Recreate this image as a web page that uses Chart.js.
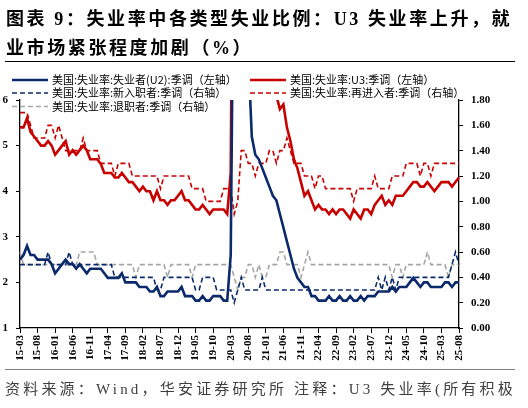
<!DOCTYPE html>
<html>
<head>
<meta charset="utf-8">
<script src="https://cdn.jsdelivr.net/npm/chart.js@4.4.1/dist/chart.umd.min.js"></script>
<style>
  html, body { margin: 0; padding: 0; background: #fff; }
  #wrap { position: relative; width: 528px; height: 408px; overflow: hidden; }
  #c { position: absolute; left: 0; top: 0; }
  .title {
    position: absolute; left: 6px; top: 5px; width: 522px;
    font-family: "Liberation Serif", "Noto Sans CJK SC", serif;
    font-weight: bold; font-size: 18px; line-height: 29px;
    letter-spacing: 2.6px; color: #000; white-space: nowrap;
  }
  .rule { position: absolute; left: 5px; width: 510px; }
  .src {
    position: absolute; left: 5px; top: 377px; white-space: nowrap;
    font-family: "Liberation Serif", "Noto Sans CJK SC", serif;
    font-size: 15px; letter-spacing: 3.2px; color: #404040;
  }
</style>
</head>
<body>
<div id="wrap">
  <canvas id="c" width="528" height="408"></canvas>
  <div class="title">图表 9：失业率中各类型失业比例：U3 失业率上升，就<br>业市场紧张程度加剧（%）</div>
  <div class="rule" style="top:61px;border-top:1.5px solid #000;"></div>
  <div class="rule" style="top:369px;border-top:1.5px solid #7f7f7f;"></div>
  <div class="src">资料来源：Wind，华安证券研究所 注释：U3 失业率(所有积极</div>
</div>
<script>
// 月份：2015-03 ~ 2025-08
const startYear = 2015, startMonth = 3, monthCount = 126;
const months = [];
for (let i = 0; i < monthCount; i++) {
  const m = startMonth - 1 + i;
  const y = startYear + Math.floor(m / 12);
  months.push(String(y).slice(2) + '-' + String(m % 12 + 1).padStart(2, '0'));
}

// U3失业率（左轴）
const u3 = [
  5.4,5.4,5.6,5.3,5.2,5.1,5.0,5.0,5.1,5.0,
  4.8,4.9,5.0,5.1,4.8,4.9,4.8,4.9,5.0,4.9,4.7,4.7,
  4.7,4.6,4.4,4.4,4.4,4.3,4.3,4.4,4.3,4.2,4.2,4.1,
  4.0,4.1,4.0,4.0,3.8,4.0,3.8,3.8,3.7,3.8,3.8,3.9,
  4.0,3.8,3.8,3.7,3.6,3.6,3.7,3.6,3.5,3.6,3.6,3.6,
  3.6,3.5,4.4,14.8,13.2,11.0,10.2,8.4,7.8,6.8,6.7,6.7,
  6.4,6.2,6.1,6.1,5.8,5.9,5.4,5.1,4.7,4.5,4.2,3.9,
  4.0,3.8,3.6,3.7,3.6,3.6,3.5,3.6,3.5,3.6,3.6,3.5,
  3.4,3.6,3.5,3.4,3.6,3.6,3.5,3.7,3.8,3.9,3.7,3.8,
  3.7,3.9,3.9,3.9,4.0,4.1,4.2,4.2,4.1,4.1,4.2,4.1,
  4.0,4.1,4.2,4.2,4.2,4.1,4.2,4.3
];

// 失业者U2（左轴）
const u2 = [
  2.5,2.6,2.8,2.6,2.6,2.5,2.5,2.5,2.5,2.4,
  2.2,2.3,2.4,2.5,2.4,2.4,2.3,2.4,2.3,2.2,2.3,2.3,
  2.3,2.3,2.2,2.1,2.1,2.1,2.1,2.2,2.0,2.0,2.0,2.0,
  1.9,1.9,1.9,1.8,1.8,1.9,1.7,1.7,1.8,1.8,1.8,1.8,
  1.9,1.7,1.7,1.7,1.6,1.6,1.7,1.6,1.6,1.7,1.7,1.7,
  1.6,1.6,2.6,11.0,9.7,8.5,7.8,7.0,5.2,4.8,4.7,4.5,
  4.3,4.1,3.9,3.8,3.5,3.2,2.9,2.6,2.3,2.1,2.0,1.9,
  1.9,1.7,1.7,1.6,1.6,1.6,1.7,1.6,1.6,1.7,1.6,1.6,
  1.7,1.6,1.6,1.7,1.6,1.7,1.7,1.7,1.8,1.8,1.8,1.8,
  1.9,1.8,1.9,1.9,1.9,2.0,2.1,2.0,1.9,2.0,2.0,1.9,
  1.9,1.9,1.9,2.0,2.0,1.9,2.0,2.0
];

// 新入职者（右轴）
const newEntrants = [
  0.5,0.5,0.5,0.5,0.5,0.5,0.5,0.5,0.6,0.5,
  0.5,0.5,0.5,0.5,0.6,0.5,0.5,0.5,0.5,0.5,0.5,0.5,
  0.5,0.5,0.5,0.5,0.5,0.4,0.4,0.4,0.4,0.4,0.4,0.4,
  0.4,0.4,0.4,0.4,0.4,0.3,0.3,0.4,0.4,0.4,0.4,0.4,
  0.4,0.4,0.4,0.4,0.3,0.3,0.4,0.4,0.4,0.4,0.3,0.3,
  0.3,0.3,0.3,0.2,0.3,0.4,0.3,0.3,0.3,0.3,0.3,0.4,
  0.3,0.3,0.3,0.3,0.3,0.3,0.3,0.3,0.3,0.3,0.3,0.3,
  0.3,0.3,0.3,0.3,0.3,0.3,0.3,0.3,0.3,0.3,0.3,0.3,
  0.3,0.3,0.3,0.3,0.3,0.3,0.3,0.3,0.4,0.3,0.4,0.3,
  0.4,0.3,0.4,0.4,0.4,0.4,0.4,0.4,0.4,0.4,0.4,0.4,
  0.4,0.4,0.4,0.4,0.4,0.5,0.6,0.5
];

// 再进入者（右轴）
const reEntrants = [
  1.7,1.7,1.7,1.6,1.5,1.5,1.5,1.5,1.6,1.6,
  1.5,1.6,1.5,1.4,1.4,1.4,1.4,1.4,1.5,1.4,1.4,1.4,
  1.4,1.3,1.3,1.3,1.3,1.2,1.3,1.3,1.3,1.3,1.2,1.2,
  1.2,1.2,1.2,1.2,1.2,1.2,1.1,1.2,1.2,1.2,1.2,1.2,
  1.2,1.2,1.2,1.1,1.1,1.1,1.1,1.0,1.0,1.0,1.0,1.0,
  1.1,1.1,1.1,0.9,1.0,1.4,1.4,1.3,1.3,1.2,1.3,1.3,
  1.3,1.4,1.4,1.3,1.4,1.4,1.5,1.4,1.3,1.3,1.3,1.2,
  1.2,1.2,1.1,1.2,1.2,1.1,1.1,1.1,1.1,1.1,1.1,1.1,
  1.1,1.0,1.1,1.1,1.1,1.1,1.1,1.2,1.1,1.1,1.1,1.1,
  1.2,1.2,1.2,1.2,1.3,1.3,1.3,1.3,1.2,1.3,1.3,1.2,
  1.3,1.3,1.3,1.3,1.3,1.3,1.3,1.3
];

// 退职者（右轴）
const jobLeavers = [
  0.6,0.5,0.5,0.5,0.5,0.5,0.5,0.5,0.5,0.5,
  0.5,0.5,0.5,0.5,0.5,0.5,0.5,0.6,0.6,0.6,0.6,0.6,
  0.5,0.5,0.5,0.5,0.5,0.5,0.5,0.5,0.5,0.5,0.5,0.4,
  0.5,0.5,0.5,0.5,0.5,0.5,0.5,0.5,0.4,0.5,0.5,0.5,
  0.5,0.5,0.5,0.4,0.5,0.5,0.5,0.5,0.5,0.5,0.5,0.5,
  0.5,0.5,0.5,0.4,0.3,0.4,0.4,0.5,0.5,0.4,0.5,0.4,
  0.4,0.5,0.5,0.5,0.6,0.6,0.5,0.5,0.5,0.5,0.4,0.5,
  0.6,0.5,0.5,0.5,0.5,0.5,0.5,0.5,0.5,0.5,0.5,0.5,
  0.5,0.5,0.5,0.5,0.5,0.5,0.5,0.5,0.5,0.5,0.5,0.5,
  0.4,0.5,0.5,0.4,0.5,0.5,0.5,0.5,0.5,0.5,0.6,0.5,
  0.5,0.5,0.5,0.5,0.4,0.5,0.5,0.5
];

const NAVY = '#0b2a6b', RED = '#c80000', GRAY = '#a6a6a6';
const tickFont = { family: 'Liberation Serif', weight: 'bold', size: 11 };

// 图例位置（左上角，部分压在绘图区上）
const legendSlots = [
  { x: 12, y: 80 }, { x: 250, y: 80 },
  { x: 12, y: 93 }, { x: 250, y: 93 },
  { x: 12, y: 106.5 }
];

const cornerLegend = {
  id: 'cornerLegend',
  afterDraw(chart) {
    const ctx = chart.ctx;
    ctx.save();
    ctx.font = '11px "Noto Sans CJK SC"';
    ctx.textBaseline = 'middle';
    ctx.fillStyle = '#000';
    chart.data.datasets.forEach((ds, i) => {
      const s = legendSlots[i];
      ctx.beginPath();
      ctx.strokeStyle = ds.borderColor;
      ctx.lineWidth = ds.borderDash ? 1.6 : 2.5;
      ctx.setLineDash(ds.borderDash || []);
      ctx.moveTo(s.x, s.y);
      ctx.lineTo(s.x + 36, s.y);
      ctx.stroke();
      ctx.setLineDash([]);
      ctx.fillText(ds.label, s.x + 40, s.y);
    });
    ctx.restore();
  }
};

new Chart(document.getElementById('c'), {
  type: 'line',
  data: {
    labels: months,
    datasets: [
      { label: '美国:失业率:失业者(U2):季调（左轴）', data: u2, yAxisID: 'yL',
        borderColor: NAVY, borderWidth: 2.6 },
      { label: '美国:失业率:U3:季调（左轴）', data: u3, yAxisID: 'yL',
        borderColor: RED, borderWidth: 2.6 },
      { label: '美国:失业率:新入职者:季调（右轴）', data: newEntrants, yAxisID: 'yR',
        borderColor: NAVY, borderWidth: 1.6, borderDash: [5, 3] },
      { label: '美国:失业率:再进入者:季调（右轴）', data: reEntrants, yAxisID: 'yR',
        borderColor: RED, borderWidth: 1.6, borderDash: [5, 3] },
      { label: '美国:失业率:退职者:季调（右轴）', data: jobLeavers, yAxisID: 'yR',
        borderColor: GRAY, borderWidth: 1.6, borderDash: [5, 3] }
    ]
  },
  options: {
    responsive: false,
    animation: false,
    layout: { padding: { top: 100, left: 0, right: 0, bottom: 0 } },
    elements: { point: { radius: 0 }, line: { tension: 0 } },
    plugins: { legend: { display: false }, tooltip: { enabled: false } },
    scales: {
      x: {
        grid: { drawOnChartArea: false, tickLength: 5, color: '#000' },
        border: { color: '#000', width: 1.3 },
        ticks: { autoSkip: false, minRotation: 90, maxRotation: 90, padding: 2,
                 color: '#000', font: tickFont },
        afterBuildTicks: s => { s.ticks = s.ticks.filter((t, i) => i % 5 === 0); },
        afterFit: s => { s.height = 80; }
      },
      yL: {
        position: 'left', min: 1, max: 6,
        grid: { drawOnChartArea: false, tickLength: 4, color: '#000' },
        border: { color: '#000', width: 1.3 },
        ticks: { stepSize: 1, padding: 8, color: '#000', font: tickFont },
        afterFit: s => { s.width = 20; }
      },
      yR: {
        position: 'right', min: 0, max: 1.8,
        grid: { drawOnChartArea: false, tickLength: 4, color: '#000' },
        border: { color: '#000', width: 1.3 },
        ticks: { stepSize: 0.2, padding: 8, color: '#000', font: tickFont,
                 callback: v => v.toFixed(2) },
        afterFit: s => { s.width = 69; }
      }
    }
  },
  plugins: [cornerLegend]
});
</script>
</body>
</html>
